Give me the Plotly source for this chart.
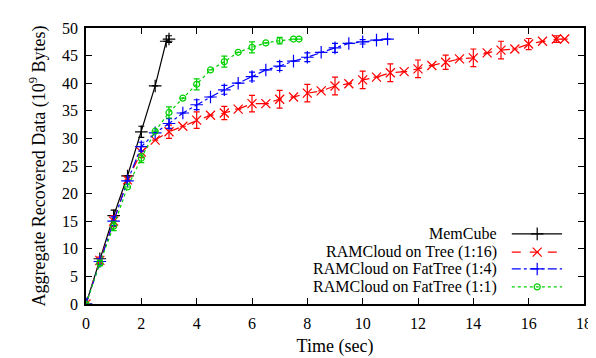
import plotly.graph_objects as go

# ---- data ----
mem_x = [0, 0.5, 1, 1.5, 2, 2.5, 2.9, 3.0]
mem_y = [0, 8.2, 16.0, 23.2, 31.2, 39.5, 47.6, 48.0]
mem_err = [None, None, 1.0, None, 1.0, None, None, 0.6]

tree_x = [0, 0.5, 1, 1.5, 2, 2.5, 3, 3.5, 4, 4.5, 5, 5.5, 6, 6.5, 7, 7.5, 8, 8.5, 9, 9.5,
          10, 10.5, 11, 11.5, 12, 12.5, 13, 13.5, 14, 14.5, 15, 15.5, 16, 16.5, 17, 17.3]
tree_y = [0, 7.9, 15.0, 22.5, 27.5, 29.7, 31.2, 32.2, 33.3, 34.2, 34.6, 35.3, 36.3, 36.3,
          37.1, 37.5, 38.2, 38.6, 39.5, 39.9, 40.6, 41.1, 41.9, 42.1, 42.6, 43.2, 43.8,
          44.4, 44.6, 45.5, 46.0, 46.2, 47.1, 47.6, 48.0, 48.0]
tree_err = [None, 0.6, 1.0, None, 1.0, None, 1.2, None, 1.5, None, 1.2, None, 1.5, None,
            1.6, None, 1.6, None, 1.6, None, 1.6, None, 1.6, None, 1.6, None, 1.3,
            None, 1.6, None, 1.6, None, 1.0, None, 0.6, None]

ft4_x = [0, 0.5, 1, 1.5, 2, 2.5, 3, 3.5, 4, 4.5, 5, 5.5, 6, 6.5, 7, 7.5, 8, 8.5, 9, 9.5,
         10, 10.5, 10.9]
ft4_y = [0, 7.7, 15.0, 22.3, 28.5, 31.0, 32.7, 34.6, 36.1, 37.5, 38.8, 40.0, 41.2, 42.4,
         43.1, 44.0, 44.7, 45.6, 46.4, 47.2, 47.5, 47.8, 48.0]
ft4_err = [None, 0.5, 0.8, None, 0.8, None, 0.9, None, 0.9, None, 0.8, None, 0.8, None,
           0.8, None, 0.8, None, 0.8, None, 0.4, None, None]

ft1_x = [0, 0.5, 1, 1.5, 2, 2.5, 3, 3.5, 4, 4.5, 5, 5.5, 6, 6.5, 7, 7.5, 7.7]
ft1_y = [0, 7.4, 14.1, 21.2, 26.4, 31.3, 34.7, 37.3, 39.8, 42.4, 43.9, 45.6, 46.5, 47.3,
         47.7, 48.0, 48.0]
ft1_err = [None, 0.5, 0.8, None, 0.8, None, 1.0, None, 1.0, None, 1.0, None, 1.0, None,
           0.6, None, None]

names = ["MemCube", "RAMCloud on Tree (1:16)", "RAMCloud on FatTree (1:4)",
         "RAMCloud on FatTree (1:1)"]
colors = ["#000000", "#ff0000", "#0000ff", "#00d000"]
dashes = ["solid", "dash", "dashdot", "dot"]
symbols = ["cross-thin-open", "x-thin-open", "cross-thin-open", "circle-open"]
sizes = [9, 9, 9, 6]

series = [(mem_x, mem_y, mem_err), (tree_x, tree_y, tree_err),
          (ft4_x, ft4_y, ft4_err), (ft1_x, ft1_y, ft1_err)]

FONT = "Liberation Serif, Times New Roman, serif"
fig = go.Figure()

for i, (xs, ys, es) in enumerate(series):
    fig.add_trace(go.Scatter(
        x=xs, y=ys, mode="lines+markers", name=names[i], showlegend=False,
        line=dict(color=colors[i], width=1.2, dash=dashes[i]),
        marker=dict(symbol=symbols[i], size=sizes[i], color=colors[i],
                    line=dict(color=colors[i], width=1.2)),
        error_y=dict(type="data", array=es, visible=True, color=colors[i],
                     thickness=1.2, width=3),
    ))

# legend drawn gnuplot-style (text left, sample right) on an overlay axis
leg_rows = [0.254, 0.188, 0.127, 0.062]
for i in range(4):
    yy = leg_rows[i]
    fig.add_trace(go.Scatter(
        x=[0.855, 0.956], y=[yy, yy], mode="lines", xaxis="x2", yaxis="y2",
        showlegend=False, hoverinfo="skip",
        line=dict(color=colors[i], width=1.2, dash=dashes[i])))
    fig.add_trace(go.Scatter(
        x=[0.906], y=[yy], mode="markers", xaxis="x2", yaxis="y2",
        showlegend=False, hoverinfo="skip",
        marker=dict(symbol=symbols[i], size=sizes[i], color=colors[i],
                    line=dict(color=colors[i], width=1.2))))
    fig.add_annotation(x=0.829, y=yy, xref="x2", yref="y2", text=names[i],
                       showarrow=False, xanchor="right", yanchor="middle",
                       font=dict(family=FONT, size=16, color="black"))

axis_common = dict(showline=True, linecolor="black", linewidth=1.5, mirror="ticks",
                   ticks="inside", ticklen=6, tickcolor="black", tickwidth=1,
                   showgrid=False, zeroline=False, automargin=False,
                   ticklabeloverflow="allow",
                   tickfont=dict(family=FONT, size=16, color="black"))

fig.update_layout(
    width=588, height=350,
    margin=dict(l=78, r=12, t=20, b=54),
    paper_bgcolor="white", plot_bgcolor="white",
    font=dict(family=FONT, color="black"),
    xaxis=dict(range=[0, 18], dtick=2, ticklabelstandoff=4,
               title=dict(text="Time (sec)", font=dict(family=FONT, size=18, color="black"),
                          standoff=8),
               **axis_common),
    yaxis=dict(range=[0, 50], dtick=5, ticklabelstandoff=3,
               title=dict(text="Aggregate Recovered Data (10<sup>9</sup> Bytes)",
                          font=dict(family=FONT, size=18, color="black"), standoff=12),
               **axis_common),
    xaxis2=dict(range=[0, 1], overlaying="x", visible=False, fixedrange=True),
    yaxis2=dict(range=[0, 1], overlaying="y", visible=False, fixedrange=True),
    showlegend=False,
)

fig.write_html("out.html")
